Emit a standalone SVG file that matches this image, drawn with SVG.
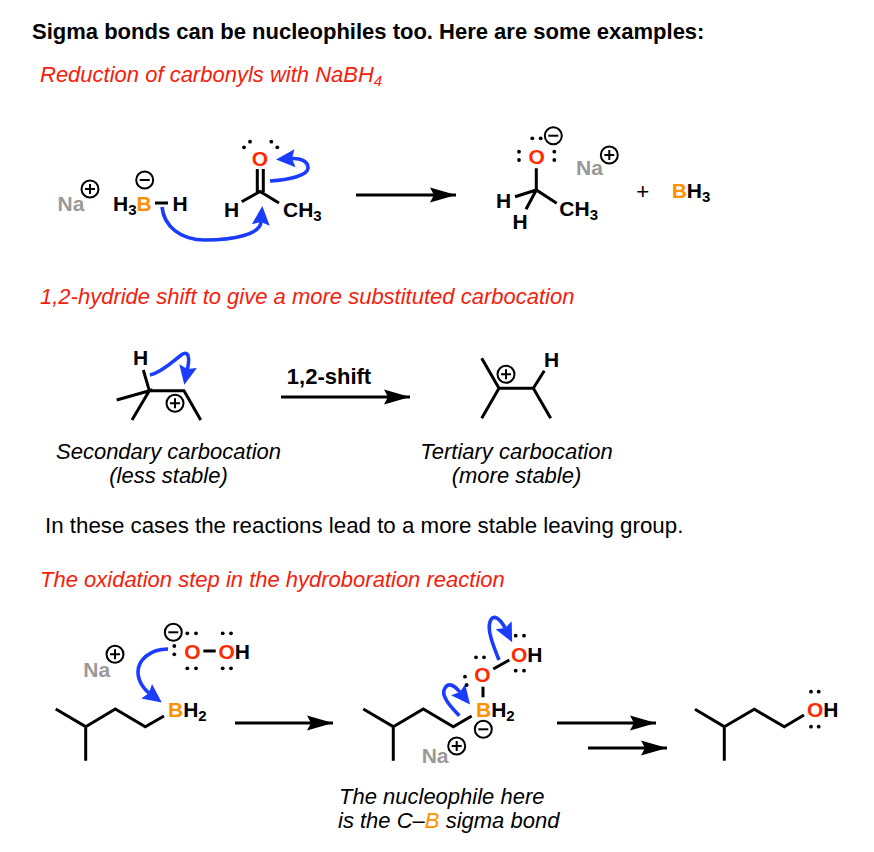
<svg xmlns="http://www.w3.org/2000/svg" width="874" height="852" viewBox="0 0 874 852">
<style>
text{font-family:"Liberation Sans",Arial,sans-serif;fill:#000}
.t{font-size:22px;font-weight:700}
.a{font-size:21px;font-weight:700}
.s{font-size:15px}
.rs{font-size:15px}
.na{fill:#999}
.o{fill:#ff2a00}
.b{fill:#ff9000}
.r{font-size:22px;font-style:italic;fill:#f5200c}
.i{font-size:22px;font-style:italic}
.n{font-size:22.300px}
.l{fill:none;stroke:#000;stroke-width:3;stroke-linecap:butt;stroke-linejoin:miter}
.c{fill:none;stroke:#000;stroke-width:2}
.d{fill:#000}
.ar{fill:none;stroke:#000;stroke-width:3}
.cv{fill:none;stroke:#1a3cff;stroke-width:3.6}
</style>
<defs>
<marker id="hk" markerUnits="userSpaceOnUse" markerWidth="34" markerHeight="18" refX="30" refY="9" orient="auto" overflow="visible"><path d="M4,1.500L30,9L4,16.500L8,9Z" fill="#000"/></marker>
<marker id="hb" markerUnits="userSpaceOnUse" markerWidth="22" markerHeight="20" refX="3" refY="10" orient="auto" overflow="visible"><path d="M0,1L19,10L0,19L3,10Z" fill="#1a3cff"/></marker>
<g id="pl"><circle class="c" r="8.500"/><path d="M-5,0H5M0,-5V5" class="c"/></g>
<g id="mi"><circle class="c" r="8.500"/><path d="M-5,0H5" class="c"/></g>
<circle id="dt" class="d" r="1.900"/>
</defs>

<g id="headings">
<text class="t" x="32" y="39">Sigma bonds can be nucleophiles too. Here are some examples:</text>
<text class="r" x="40" y="82">Reduction of carbonyls with NaBH<tspan class="rs" dy="4">4</tspan></text>
<text class="r" x="40" y="304">1,2-hydride shift to give a more substituted carbocation</text>
<text class="n" x="45" y="533">In these cases the reactions lead to a more stable leaving group.</text>
<text class="r" x="40" y="587">The oxidation step in the hydroboration reaction</text>
</g>

<g id="connectors">
<line class="ar" x1="356" y1="195" x2="456" y2="195" marker-end="url(#hk)"/>
<line class="ar" x1="281" y1="397" x2="410" y2="397" marker-end="url(#hk)"/>
<line class="ar" x1="235" y1="723" x2="333" y2="723" marker-end="url(#hk)"/>
<line class="ar" x1="557" y1="723" x2="656" y2="723" marker-end="url(#hk)"/>
<line class="ar" x1="588" y1="748" x2="667" y2="748" marker-end="url(#hk)"/>
<path class="cv" d="M162,207C164,226 180,240 205,240C235,240 260,234 261,222" marker-end="url(#hb)"/>
<path class="cv" d="M270,181C290,180 308,175 308,168C308,161 300,158 292,158.500" marker-end="url(#hb)"/>
<path class="cv" d="M150,375C162,372 172,362 180,356C186,351 191,352 187.500,369" marker-end="url(#hb)"/>
<path class="cv" d="M168,649C150,649 138,660 138,672C138,682 145,690 149,693" marker-end="url(#hb)"/>
<path class="cv" d="M499,660C493,645 487,630 490,622C493,612 501,620 505,628" marker-end="url(#hb)"/>
<path class="cv" d="M459.300,715.700C450,706 440,695 445,688C449,681 456,687 460,692" marker-end="url(#hb)"/>
</g>

<g id="na1"><text class="a na" x="57.500" y="211">Na</text><use href="#pl" x="90" y="189"/></g>
<g id="borohydride">
<text class="a" x="113" y="211">H<tspan class="s" dy="4">3</tspan><tspan class="b" dy="-4">B</tspan></text>
<text class="a" x="172.500" y="211">H</text>
<path class="l" d="M155,203H168"/>
<use href="#mi" x="144.700" y="180"/>
</g>
<g id="carbonyl">
<text class="a o" x="260" y="165.500" text-anchor="middle">O</text>
<use href="#dt" x="244" y="147.300"/><use href="#dt" x="250" y="141.700"/><use href="#dt" x="271.300" y="141.700"/><use href="#dt" x="277.300" y="147.300"/>
<path class="l" d="M257.300,169V192M263.300,169V192M241.700,201.700L260,191.500L279,203"/>
<text class="a" x="224" y="217">H</text>
<text class="a" x="283" y="217">CH<tspan class="s" dy="4">3</tspan></text>
</g>

<g id="alkoxide">
<text class="a o" x="536.700" y="163.500" text-anchor="middle">O</text>
<use href="#dt" x="519" y="151.700"/><use href="#dt" x="519" y="160"/><use href="#dt" x="554.300" y="151.700"/><use href="#dt" x="554.300" y="160"/><use href="#dt" x="532.300" y="138.300"/><use href="#dt" x="540.700" y="138.300"/>
<use href="#mi" x="553.300" y="135.700"/>
<path class="l" d="M536.300,168.300V190M515,196.700L536.300,190L556.700,203.300M536.300,190L526,209.300"/>
<text class="a" x="496" y="208">H</text>
<text class="a" x="512.500" y="228.500">H</text>
<text class="a" x="559.300" y="216">CH<tspan class="s" dy="4">3</tspan></text>
</g>
<g id="na2"><text class="a na" x="576" y="175">Na</text><use href="#pl" x="609.300" y="155"/></g>
<g id="plus"><text class="n" x="642.700" y="199" text-anchor="middle">+</text></g>
<g id="bh3"><text class="a" x="671.700" y="198"><tspan class="b">B</tspan>H<tspan class="s" dy="4">3</tspan></text></g>

<g id="secondary">
<text class="a" x="133" y="365">H</text>
<path class="l" d="M143.300,370L149.300,390.700M116.700,400L149.300,390.700L132,420M149.300,390.700H184L200.700,420"/>
<use href="#pl" x="175" y="403.300"/>
<text class="i" x="168.500" y="459" text-anchor="middle">Secondary carbocation</text>
<text class="i" x="168.500" y="483" text-anchor="middle">(less stable)</text>
</g>
<g id="shift"><text class="t" x="329" y="384" text-anchor="middle">1,2-shift</text></g>
<g id="tertiary">
<text class="a" x="544" y="366.700">H</text>
<path class="l" d="M481.700,358.300L499,388.300L481.700,418.300M499,388.300H533.300L544.300,370.700M533.300,388.300L550.700,418.300"/>
<use href="#pl" x="506" y="374.300"/>
<text class="i" x="516.500" y="459" text-anchor="middle">Tertiary carbocation</text>
<text class="i" x="516.500" y="483" text-anchor="middle">(more stable)</text>
</g>

<g id="na3"><text class="a na" x="83.300" y="676.700">Na</text><use href="#pl" x="115" y="654.300"/></g>
<g id="hydroperoxide">
<use href="#mi" x="173.300" y="632.300"/>
<use href="#dt" x="174.300" y="646"/><use href="#dt" x="174.300" y="654.300"/>
<text class="a o" x="192.500" y="658.500" text-anchor="middle">O</text>
<use href="#dt" x="187.300" y="633.300"/><use href="#dt" x="196" y="633.300"/><use href="#dt" x="187.300" y="668.300"/><use href="#dt" x="196" y="668.300"/>
<path class="l" d="M203.300,651H215.700"/>
<text class="a" x="218.500" y="658.500"><tspan class="o">O</tspan>H</text>
<use href="#dt" x="222.700" y="633.300"/><use href="#dt" x="231" y="633.300"/><use href="#dt" x="222.700" y="668.300"/><use href="#dt" x="231" y="668.300"/>
</g>
<g id="borane">
<path class="l" d="M55.700,709L85.700,726.700V760.700M85.700,726.700L115.300,709L145.300,726.700L164,716"/>
<text class="a" x="168" y="716.700"><tspan class="b">B</tspan>H<tspan class="s" dy="4">2</tspan></text>
</g>

<g id="adduct">
<path class="l" d="M363.300,709L393.300,726.700V760.700M393.300,726.700L423.300,709L453.300,726.700L471.700,716M483,686.700V697.300M493.300,669L509.300,660"/>
<text class="a" x="476" y="716.700"><tspan class="b">B</tspan>H<tspan class="s" dy="4">2</tspan></text>
<use href="#mi" x="483.300" y="729.300"/>
<text class="a o" x="482.300" y="681.700" text-anchor="middle">O</text>
<use href="#dt" x="476" y="657.300"/><use href="#dt" x="484" y="657.300"/><use href="#dt" x="465" y="676.700"/><use href="#dt" x="466.700" y="685"/>
<text class="a" x="511" y="661.700"><tspan class="o">O</tspan>H</text>
<use href="#dt" x="515.700" y="635.700"/><use href="#dt" x="524" y="635.700"/><use href="#dt" x="515.700" y="670.700"/><use href="#dt" x="524" y="670.700"/>
</g>
<g id="na4"><text class="a na" x="421.700" y="763.300">Na</text><use href="#pl" x="456.700" y="746"/></g>

<g id="alcohol">
<path class="l" d="M695,709.300L724.300,726.700V760.700M724.300,726.700L754.300,709.300L784.300,726.700L804,715"/>
<text class="a" x="807" y="716.700"><tspan class="o">O</tspan>H</text>
<use href="#dt" x="811" y="691.700"/><use href="#dt" x="818.700" y="691.700"/><use href="#dt" x="811" y="726.700"/><use href="#dt" x="818.700" y="726.700"/>
</g>

<g id="caption">
<text class="i" x="339" y="804">The nucleophile here</text>
<text class="i" x="338" y="828">is the C–<tspan class="b">B</tspan> sigma bond</text>
</g>
</svg>
